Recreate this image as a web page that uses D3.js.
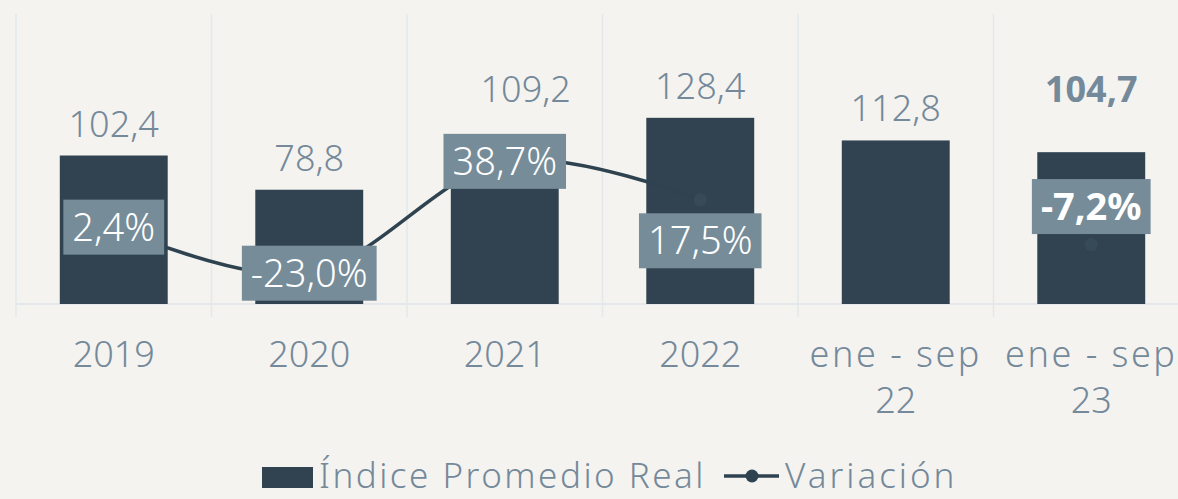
<html>
<head>
    <script src="https://d3js.org/d3.v7.min.js" charset="utf-8"></script>
</head>
<style>
    body{
        margin:0;
        background:#f4f3f0;
    }
    text{
        font-family: 'Noto Sans', Lato, sans-serif;
    }
</style>
<body>
</body>
<script>
    const categories = ['2019','2020','2021','2022','ene - sep 22','ene - sep 23'];
    const tickLabels = [['2019'],['2020'],['2021'],['2022'],['ene - sep','22'],['ene - sep','23']];
    const indice = [102.4, 78.8, 109.2, 128.4, 112.8, 104.7];
    const variacion = [2.4, -23.0, 38.7, 17.5, null, -7.2];
    const indiceLabels = ['102,4','78,8','109,2','128,4','112,8','104,7'];
    const variacionLabels = ['2,4%','-23,0%','38,7%','17,5%','','-7,2%'];

    const w = 1178;
    const h = 499;
    const barColor = '#314350';
    const boxColor = '#768c99';
    const textColor = '#74899a';
    const gridColor = '#e5e8eb';

    // manual nudges like in the original
    const valueShift = {'2021':[21,-25],'ene - sep 23':[0,-31]};
    const boxShift = {'2022':41,'ene - sep 23':-38};
    const boldCat = 'ene - sep 23';

    const svg = d3.select('body')
                .append('svg')
                .attr('width',w)
                .attr('height',h);

    const xScale = d3.scaleBand()
                    .domain(categories)
                    .range([16,1189])
                    .paddingInner(0.448)
                    .paddingOuter(0.224);
    const yScale = d3.scaleLinear().domain([0,200]).range([304,14]);
    const y2Scale = d3.scaleLinear().domain([-40,120]).range([304,14]);

    const step = xScale.step();
    const bounds = d3.range(categories.length+1).map((i)=>xScale.range()[0]+i*step);

    // gridlines + ticks
    svg.selectAll('.grid')
        .data(bounds)
        .enter()
        .append('line')
        .attr('x1',(d)=>d).attr('x2',(d)=>d)
        .attr('y1',14).attr('y2',317)
        .attr('stroke',gridColor)
        .attr('stroke-width',1.5);

    svg.append('line')
        .attr('x1',16).attr('x2',w)
        .attr('y1',yScale(0)).attr('y2',yScale(0))
        .attr('stroke',gridColor)
        .attr('stroke-width',2);

    svg.selectAll('.bar')
        .data(indice)
        .enter()
        .append('rect')
        .attr('x',(d,i)=>xScale(categories[i]))
        .attr('y',(d)=>yScale(d))
        .attr('width',xScale.bandwidth())
        .attr('height',(d)=>yScale(0)-yScale(d))
        .attr('fill',barColor);

    svg.selectAll('.vlabel')
        .data(indice)
        .enter()
        .append('text')
        .attr('x',(d,i)=>xScale(categories[i])+xScale.bandwidth()/2+(valueShift[categories[i]]||[0,0])[0])
        .attr('y',(d,i)=>yScale(d)-19+(valueShift[categories[i]]||[0,0])[1])
        .attr('text-anchor','middle')
        .attr('fill',textColor)
        .style('font-size','36px')
        .style('font-weight',(d,i)=>categories[i]==boldCat?700:300)
        .text((d,i)=>indiceLabels[i]);

    // variation line
    const pts = variacion.map((v,i)=>({cat:categories[i],v:v}));
    const line = d3.line()
                .defined((d)=>d.v!==null)
                .x((d)=>xScale(d.cat)+xScale.bandwidth()/2)
                .y((d)=>y2Scale(d.v))
                .curve(d3.curveCardinal.tension(0));

    svg.append('path')
        .datum(pts)
        .attr('d',line)
        .attr('fill','none')
        .attr('stroke','#2e4250')
        .attr('stroke-width',3.5);

    svg.selectAll('.dot')
        .data(pts.filter((d)=>d.v!==null))
        .enter()
        .append('circle')
        .attr('cx',(d)=>xScale(d.cat)+xScale.bandwidth()/2)
        .attr('cy',(d)=>y2Scale(d.v))
        .attr('r',6.5)
        .attr('fill','#364a58');

    const boxes = svg.selectAll('.box')
        .data(pts.filter((d)=>d.v!==null))
        .enter()
        .append('g')
        .attr('transform',(d)=>'translate('+(xScale(d.cat)+xScale.bandwidth()/2)+','+(y2Scale(d.v)+(boxShift[d.cat]||0))+')');

    boxes.append('rect').attr('class','bg').attr('fill',boxColor);
    boxes.append('text')
        .attr('text-anchor','middle')
        .attr('dy','0.36em')
        .attr('fill','#ffffff')
        .style('font-size','38px')
        .style('font-weight',(d)=>d.cat==boldCat?700:300)
        .text((d)=>variacionLabels[categories.indexOf(d.cat)]);

    boxes.each(function(){
        const g = d3.select(this);
        const bb = g.select('text').node().getBBox();
        g.select('rect')
            .attr('x',-bb.width/2-9)
            .attr('y',-27.5)
            .attr('width',bb.width+18)
            .attr('height',55);
    });

    // category labels
    const ticks = svg.selectAll('.tick')
        .data(tickLabels)
        .enter()
        .append('text')
        .attr('x',(d,i)=>xScale(categories[i])+xScale.bandwidth()/2)
        .attr('y',367)
        .attr('text-anchor','middle')
        .attr('fill',textColor)
        .style('font-size','36px')
        .style('font-weight',300);
    ticks.selectAll('tspan')
        .data((d)=>d)
        .enter()
        .append('tspan')
        .attr('x',function(){return this.parentNode.getAttribute('x');})
        .attr('dy',(d,i)=>i==0?0:45.5)
        .style('letter-spacing',(d)=>/[a-z]/.test(d)?'2.5px':'0px')
        .text((d)=>d);

    // legend
    const legend = svg.append('g').attr('id','legend');
    legend.append('rect')
        .attr('x',262).attr('y',467)
        .attr('width',51).attr('height',21)
        .attr('fill',barColor);
    legend.append('text')
        .attr('x',319).attr('y',488)
        .attr('fill',textColor)
        .style('font-size','35px')
        .style('font-weight',300)
        .style('letter-spacing','2.5px')
        .text('Índice Promedio Real');
    legend.append('line')
        .attr('x1',724).attr('x2',779)
        .attr('y1',476).attr('y2',476)
        .attr('stroke','#2e4250')
        .attr('stroke-width',3.5);
    legend.append('circle')
        .attr('cx',752).attr('cy',476)
        .attr('r',6.5)
        .attr('fill','#2e4250');
    legend.append('text')
        .attr('x',785).attr('y',488)
        .attr('fill',textColor)
        .style('font-size','35px')
        .style('font-weight',300)
        .style('letter-spacing','3px')
        .text('Variación');
</script>
</html>
